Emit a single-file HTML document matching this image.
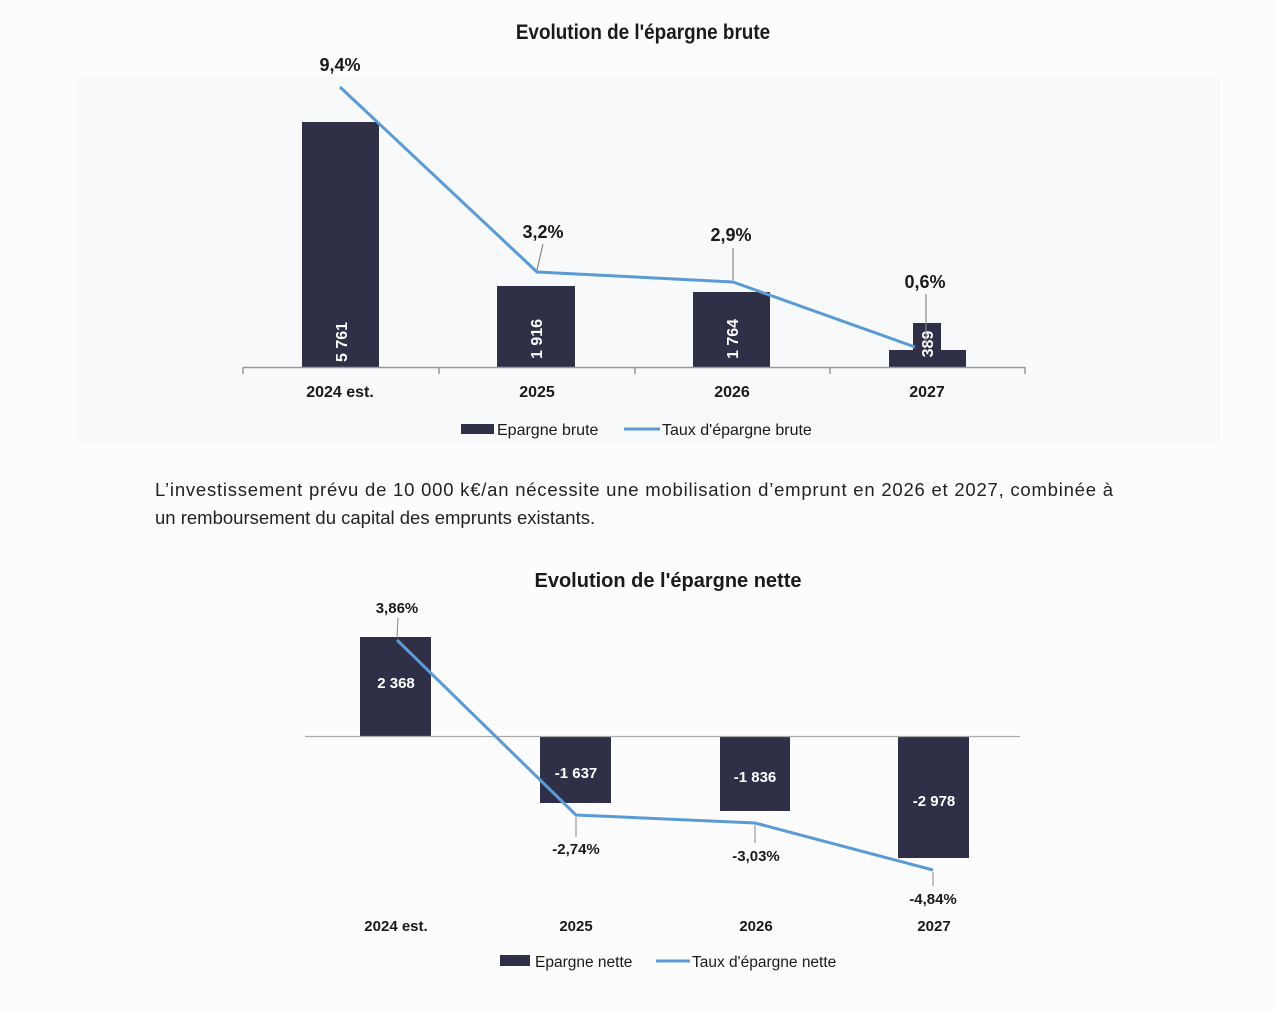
<!DOCTYPE html>
<html><head><meta charset="utf-8"><style>
html,body{margin:0;padding:0;background:#fcfcfd;}
svg{display:block;}
text{font-family:"Liberation Sans",sans-serif;}
.b{font-weight:bold;}
</style></head><body>
<svg width="1275" height="1011" viewBox="0 0 1275 1011" xmlns="http://www.w3.org/2000/svg">
<rect width="1275" height="1011" fill="#fcfcfd"/>
<rect x="75" y="75" width="1145" height="370" fill="#f8f9fb"/>
<text x="643" y="39" text-anchor="middle" class="b" font-size="21" fill="#1a1a1a" transform="translate(643 0) scale(0.9 1) translate(-643 0)">Evolution de l'épargne brute</text>
<g fill="#2f3047">
<rect x="302" y="122" width="77" height="245"/>
<rect x="497" y="286" width="78" height="81"/>
<rect x="693" y="292" width="77" height="75"/>
<rect x="913" y="323" width="28" height="28"/>
<rect x="889" y="350" width="77" height="17"/>
</g>
<g fill="#fff" class="b" font-size="16">
<text transform="translate(347 342) rotate(-90)" text-anchor="middle" class="b">5 761</text>
<text transform="translate(542 339) rotate(-90)" text-anchor="middle" class="b">1 916</text>
<text transform="translate(738 339) rotate(-90)" text-anchor="middle" class="b">1 764</text>
<text transform="translate(933 344) rotate(-90)" text-anchor="middle" class="b">389</text>
</g>
<line x1="243" y1="367.5" x2="1025" y2="367.5" stroke="#999" stroke-width="1.5"/>
<g stroke="#999" stroke-width="1.5"><line x1="243" y1="367" x2="243" y2="374"/><line x1="439" y1="367" x2="439" y2="374"/><line x1="635" y1="367" x2="635" y2="374"/><line x1="830" y1="367" x2="830" y2="374"/><line x1="1025" y1="367" x2="1025" y2="374"/></g>
<polyline points="340,87 537,272 733,282 915,347" fill="none" stroke="#5b9bd5" stroke-width="3"/>
<g stroke="#888" stroke-width="1.2"><line x1="543" y1="244" x2="537" y2="270"/><line x1="733" y1="248" x2="733" y2="280"/><line x1="926" y1="294" x2="926" y2="345"/></g>
<g class="b" font-size="18" fill="#1a1a1a" text-anchor="middle">
<text x="340" y="71">9,4%</text><text x="543" y="238">3,2%</text><text x="731" y="241">2,9%</text><text x="925" y="288">0,6%</text>
</g>
<g class="b" font-size="16" fill="#1a1a1a" text-anchor="middle">
<text x="340" y="397">2024 est.</text><text x="537" y="397">2025</text><text x="732" y="397">2026</text><text x="927" y="397">2027</text>
</g>
<rect x="461" y="424" width="33" height="10" fill="#2f3047"/>
<text x="497" y="435" font-size="16" fill="#1a1a1a">Epargne brute</text>
<line x1="624" y1="429" x2="660" y2="429" stroke="#5b9bd5" stroke-width="3"/>
<text x="662" y="435" font-size="16" fill="#1a1a1a">Taux d'épargne brute</text>
<text x="155" y="496" font-size="18.5" fill="#222" textLength="958" lengthAdjust="spacing">L’investissement prévu de 10 000 k€/an nécessite une mobilisation d’emprunt en 2026 et 2027, combinée à</text>
<text x="155" y="524" font-size="18.5" fill="#222">un remboursement du capital des emprunts existants.</text>
<text x="668" y="587" text-anchor="middle" class="b" font-size="20" fill="#1a1a1a">Evolution de l'épargne nette</text>
<g fill="#2f3047">
<rect x="360" y="637" width="71" height="99"/>
<rect x="540" y="736" width="71" height="67"/>
<rect x="720" y="736" width="70" height="75"/>
<rect x="898" y="736" width="71" height="122"/>
</g>
<line x1="305" y1="736.5" x2="1020" y2="736.5" stroke="#aaa" stroke-width="1.2"/>
<g fill="#fff" class="b" font-size="15" text-anchor="middle">
<text x="396" y="688">2 368</text><text x="576" y="778">-1 637</text><text x="755" y="782">-1 836</text><text x="934" y="806">-2 978</text>
</g>
<polyline points="397,640 576,815 755,823 933,870" fill="none" stroke="#5b9bd5" stroke-width="3"/>
<g stroke="#888" stroke-width="1"><line x1="398" y1="618" x2="397" y2="638"/><line x1="576" y1="817" x2="576" y2="837"/><line x1="755" y1="825" x2="755" y2="843"/><line x1="933" y1="872" x2="933" y2="886"/></g>
<g class="b" font-size="15" fill="#1a1a1a" text-anchor="middle">
<text x="397" y="613">3,86%</text><text x="576" y="854">-2,74%</text><text x="756" y="861">-3,03%</text><text x="933" y="904">-4,84%</text>
<text x="396" y="931">2024 est.</text><text x="576" y="931">2025</text><text x="756" y="931">2026</text><text x="934" y="931">2027</text>
</g>
<rect x="500" y="955" width="30" height="11" fill="#2f3047"/>
<text x="535" y="967" font-size="15.5" fill="#1a1a1a">Epargne nette</text>
<line x1="656" y1="961" x2="690" y2="961" stroke="#5b9bd5" stroke-width="3"/>
<text x="692" y="967" font-size="15.5" fill="#1a1a1a">Taux d'épargne nette</text>
</svg>
</body></html>
